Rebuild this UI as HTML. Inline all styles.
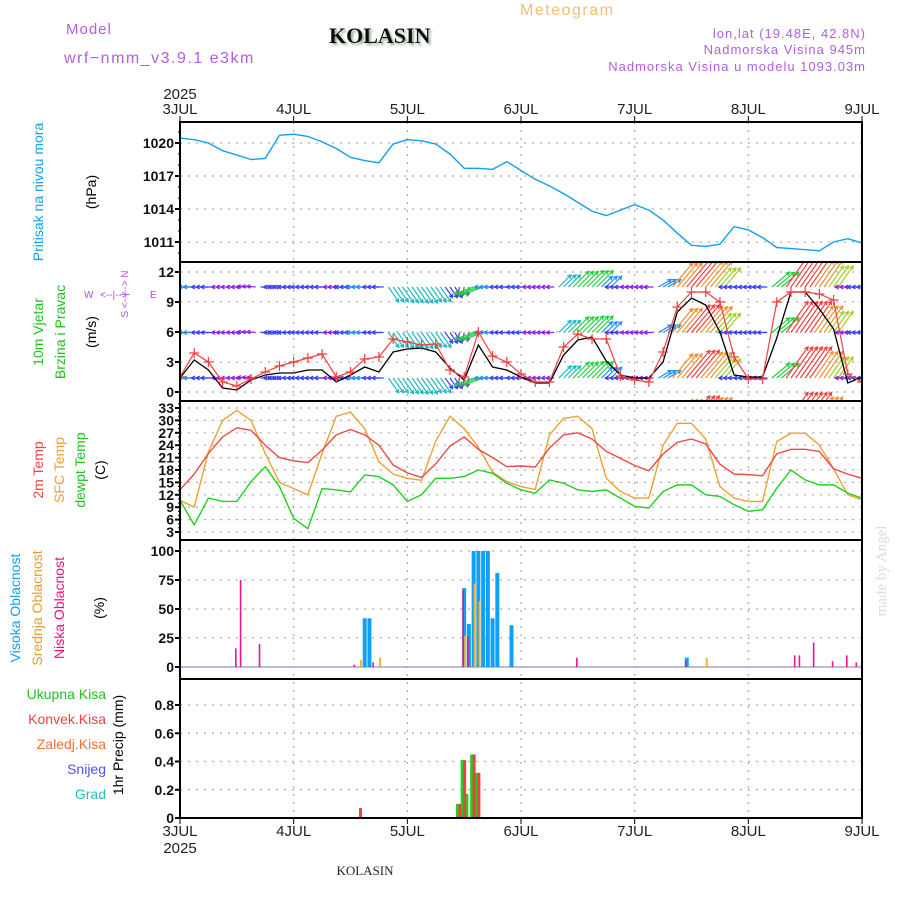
<!DOCTYPE html>
<html><head><meta charset="utf-8"><style>
html,body{margin:0;padding:0;background:#fff;}
svg{display:block;font-family:"Liberation Sans",sans-serif;}
</style></head><body>
<svg id="chart" width="900" height="900" viewBox="0 0 900 900" xmlns="http://www.w3.org/2000/svg">
<defs>
<clipPath id="windClip"><rect x="180" y="262" width="682" height="139"/></clipPath>
<clipPath id="tempClip"><rect x="180" y="401" width="682" height="139"/></clipPath>
<filter id="sh"><feDropShadow dx="2" dy="2" stdDeviation="1" flood-color="#9a9"/></filter>
</defs>
<g>
<text x="66" y="34" fill="#b060e0" font-size="15" letter-spacing="1">Model</text>
<text x="64" y="63" fill="#b060e0" font-size="16" letter-spacing="1.5">wrf−nmm_v3.9.1 e3km</text>
<text x="329" y="43" font-family="Liberation Serif,serif" font-weight="bold" font-size="22" fill="#111" filter="url(#sh)">KOLASIN</text>
<text x="520" y="15" fill="#f0c070" font-size="16" letter-spacing="1.5">Meteogram</text>
<text x="866" y="38" text-anchor="end" fill="#b060e0" font-size="13" letter-spacing="1">lon,lat (19.48E, 42.8N)</text>
<text x="866" y="54" text-anchor="end" fill="#b060e0" font-size="13" letter-spacing="1">Nadmorska Visina 945m</text>
<text x="866" y="71" text-anchor="end" fill="#b060e0" font-size="13" letter-spacing="1">Nadmorska Visina u modelu 1093.03m</text>
<text x="365" y="875" text-anchor="middle" font-family="Liberation Serif,serif" font-size="13" fill="#222">KOLASIN</text>
<text transform="translate(886,571) rotate(-90)" text-anchor="middle" font-family="Liberation Serif,serif" font-size="15" fill="#d8ddd8">made by Angel</text>
</g>
<g font-size="14">
<text transform="translate(43,192) rotate(-90)" text-anchor="middle" fill="#10a0f0">Pritisak na nivou mora</text>
<text transform="translate(96,192) rotate(-90)" text-anchor="middle" fill="#000">(hPa)</text>
<text transform="translate(43,332) rotate(-90)" text-anchor="middle" fill="#20c020">10m Vjetar</text>
<text transform="translate(65,332) rotate(-90)" text-anchor="middle" fill="#20c020">Brzina i Pravac</text>
<text transform="translate(96,332) rotate(-90)" text-anchor="middle" fill="#000">(m/s)</text>
<g fill="#b050e0" font-size="10">
<text x="84" y="298">W</text><text x="100" y="298">&lt;--|--&gt;</text><text x="150" y="298">E</text>
<text transform="translate(128,294) rotate(-90)" text-anchor="middle">S &lt;--|--&gt; N</text>
</g>
<text transform="translate(43,470) rotate(-90)" text-anchor="middle" fill="#f04040">2m Temp</text>
<text transform="translate(64,470) rotate(-90)" text-anchor="middle" fill="#f0a030">SFC Temp</text>
<text transform="translate(85,470) rotate(-90)" text-anchor="middle" fill="#20c020">dewpt Temp</text>
<text transform="translate(105,470) rotate(-90)" text-anchor="middle" fill="#000">(C)</text>
<text transform="translate(20,608) rotate(-90)" text-anchor="middle" fill="#10a0f0">Visoka Oblacnost</text>
<text transform="translate(42,608) rotate(-90)" text-anchor="middle" fill="#e0a030">Srednja Oblacnost</text>
<text transform="translate(64,608) rotate(-90)" text-anchor="middle" fill="#f01080">Niska Oblacnost</text>
<text transform="translate(104,608) rotate(-90)" text-anchor="middle" fill="#000">(%)</text>
<text x="106" y="699" text-anchor="end" fill="#20c020">Ukupna Kisa</text>
<text x="106" y="724" text-anchor="end" fill="#f04040">Konvek.Kisa</text>
<text x="106" y="749" text-anchor="end" fill="#f07030">Zaledj.Kisa</text>
<text x="106" y="774" text-anchor="end" fill="#5050f0">Snijeg</text>
<text x="106" y="799" text-anchor="end" fill="#20c0c0">Grad</text>
<text transform="translate(123,745) rotate(-90)" text-anchor="middle" fill="#000">1hr Precip (mm)</text>
</g>
<g id="plots"></g>
</svg>
<script>
// ---- data (3-hourly from 3JUL 00h) ----
const dayLabels = ["3JUL","4JUL","5JUL","6JUL","7JUL","8JUL","9JUL"];
const pressure = [1020.45,1020.3,1020.0,1019.3,1018.9,1018.5,1018.6,1020.7,1020.8,1020.6,1020.1,1019.5,1018.7,1018.4,1018.2,1019.9,1020.3,1020.2,1019.9,1019.0,1017.7,1017.7,1017.6,1018.3,1017.5,1016.7,1016.1,1015.4,1014.6,1013.8,1013.4,1013.9,1014.4,1013.9,1013.0,1011.8,1010.7,1010.6,1010.8,1012.4,1012.1,1011.4,1010.5,1010.4,1010.3,1010.2,1011.0,1011.3,1010.9];
const pressureTicks = [1011,1014,1017,1020];
const windSpeed = [1.4,3.2,2.2,0.4,0.2,1.2,1.7,1.9,1.9,2.2,2.2,1.0,1.7,2.5,2.0,4.0,4.3,4.4,4.0,2.4,1.2,4.7,2.5,2.2,1.5,0.9,0.9,3.7,5.2,5.5,3.1,1.7,1.4,1.4,3.0,8.0,9.4,8.7,6.0,1.7,1.5,1.5,5.4,10,10,8.3,6.3,0.9,1.5];
const windGust = [1.5,3.9,3.0,1.0,0.6,1.3,2.0,2.6,3.0,3.4,3.8,1.5,2.0,3.3,3.5,5.3,5.0,4.7,4.8,2.2,1.5,6.0,3.6,3.0,1.8,1.0,1.0,4.5,5.8,5.3,5.3,1.6,1.2,1.0,4.0,8.5,10.0,10.0,9.0,3.5,1.3,1.3,9.0,10.0,10.0,9.8,9.2,1.8,1.0];
const windDir = [180,180,180,180,180,175,0,180,180,180,180,180,180,180,180,-55,-55,-55,-55,-55,-100,200,180,180,180,180,180,45,45,45,45,180,180,180,30,50,50,50,50,180,180,180,40,55,55,55,55,180,180];
const windTicks = [0,3,6,9,12];
const temp2m = [13.2,17,22,26,28.2,27.6,24,21,20.2,19.8,22.8,26.5,27.8,26.5,24,19.2,17.3,16.2,19.5,23.8,26,23,21,18.8,19,18.7,23.3,26.5,27,25.5,22.5,20.8,19.1,17.8,21.9,24.7,25.5,24.3,19.4,17,16.9,16.6,21.9,23,23,22.5,18.3,17,16];
const tempSfc = [10.7,9,22.4,30,32.4,30,22,15,13.5,12,22,31,32,28,20,17,16,15.5,25,31,28,23.5,17.5,15.2,14,13.3,26.5,30.5,31,28,16,12.8,11.2,11.2,24,29.3,29.3,25.5,14,11.2,10.4,10.4,24.9,26.9,26.9,24,18.3,12,10.8];
const tempDew = [10.7,4.7,11.2,10.4,10.4,15.2,18.8,14,6.3,3.8,13.5,13.2,12.7,16.8,16.4,14.4,10.4,12,16,16,16.4,18,17.2,14.8,13.2,12.4,15.6,14.8,13.2,12.8,13.2,11.2,9.2,8.8,12.8,14.4,14.4,12,11.6,9.6,8,8.4,13.6,18,15.6,14.4,14.4,12.4,11.2];
const tempTicks = [3,6,9,12,15,18,21,24,27,30,33];
const highHours = [39,40,60,61,62,63,64,65,66,67,70,107];
const highVals  = [42,42,68,37,100,100,100,100,42,81,36,8];
const midHours = [38,42,60,62,63,111];
const midVals  = [6,8,27,72,57,8];
const lowHours = [12,13,17,37,41,60,61,84,107,130,131,134,138,141,143];
const lowVals  = [16,75,20,2,4,66,26,8,5,10,10,21,5,10,4];
const cloudTicks = [0,25,50,75,100];
const totalHours = [59,60,61,62,63];
const totalVals  = [0.1,0.41,0.17,0.45,0.32];
const convHours = [38,59,60,62,63];
const convVals  = [0.07,0.1,0.41,0.45,0.32];
const precipTicks = [0,0.2,0.4,0.6,0.8];

// ---- scales ----
const X0=180, X1=862;
const xh = h => X0 + h*(X1-X0)/144;
const xk = k => xh(k*3);
const yP = p => 143 + (1020-p)*11;
const yW = v => 392 - v*10;
const yT = t => 532 - (t-3)*124/30;
const yC = c => 667 - c*1.16;
const yR = r => 818 - r*141.25;
const NS="http://www.w3.org/2000/svg";
const root=document.getElementById('plots');
function el(tag,attrs,parent){const e=document.createElementNS(NS,tag);for(const k in attrs)e.setAttribute(k,attrs[k]);(parent||root).appendChild(e);return e;}

const panels=[[122,262],[262,401],[401,540],[540,679],[679,818]];
// grids
const grid=el('g',{stroke:'#aaa','stroke-width':1.2,'stroke-dasharray':'2,6'});


for(let d=1;d<6;d++){el('line',{x1:xh(d*24),x2:xh(d*24),y1:122,y2:818},grid);}
function hgrid(vals,f){vals.forEach(v=>el('line',{x1:X0,x2:X1,y1:f(v),y2:f(v)},grid));}
hgrid(pressureTicks,yP);hgrid(windTicks,yW);hgrid(tempTicks,yT);hgrid(cloudTicks,yC);hgrid(precipTicks,yR);

// tick labels
const tl=el('g',{'font-size':14,'font-weight':'bold','text-anchor':'end',fill:'#111'});


function ylabels(vals,f,fmt){vals.forEach(v=>{const t=el('text',{x:174,y:f(v)+5},tl);t.textContent=fmt?fmt(v):v;el('line',{x1:175,x2:180,y1:f(v),y2:f(v),stroke:'#000','stroke-width':2},tl);});}
ylabels(pressureTicks,yP);ylabels(windTicks,yW);ylabels(tempTicks,yT);ylabels(cloudTicks,yC);ylabels(precipTicks,yR,v=>v===0?'0':v.toFixed(1));
for(let p=1010;p<=1021;p++)el('line',{x1:178,x2:180,y1:yP(p),y2:yP(p),stroke:'#000'},tl);
for(let t=3;t<=34;t++)el('line',{x1:178,x2:180,y1:yT(t),y2:yT(t),stroke:'#000'},tl);

// x labels
const xl=el('g',{'font-size':15,'text-anchor':'middle',fill:'#222'});


dayLabels.forEach((d,i)=>{const x=xh(i*24);
 let t=el('text',{x:x,y:114},xl);t.textContent=d;
 t=el('text',{x:x,y:836},xl);t.textContent=d;
 el('line',{x1:x,x2:x,y1:116,y2:122,stroke:'#000'},xl);
 el('line',{x1:x,x2:x,y1:818,y2:824,stroke:'#000'},xl);});
let t2=el('text',{x:180,y:99},xl);t2.textContent='2025';
t2=el('text',{x:180,y:853},xl);t2.textContent='2025';

// pressure line
const pl=el('polyline',{points:pressure.map((p,k)=>xk(k)+','+yP(p)).join(' '),fill:'none',stroke:'#10a0f0','stroke-width':1.4,'stroke-linejoin':'round'});



// wind arrows (each 3h value drawn as a small cluster of hourly arrows)
function spdColor(s){return s<1.5?'#9020e0':s<2.5?'#3a40f0':s<3.5?'#2090f0':s<4.6?'#20b8c0':s<5.6?'#20d040':s<6.5?'#a0d020':s<7.5?'#f0c020':s<8.8?'#f09030':'#f04040';}
const wg=el('g',{'clip-path':'url(#windClip)','stroke-width':1.2,fill:'none'});


[287,332.5,378,423.5].forEach(base=>{
 windSpeed.forEach((s,k)=>{
  const a=windDir[k]*Math.PI/180, L=5+3.3*s, c=spdColor(s);
  [-1,0,1].forEach(o=>{
   const x0=xh(k*3+o), y0=base, x1=x0+L*Math.cos(a), y1=y0-L*Math.sin(a);
   const arr=el('path',{d:`M${x0},${y0}L${x1},${y1}M${x1-4*Math.cos(a-0.5)},${y1+4*Math.sin(a-0.5)}L${x1},${y1}L${x1-4*Math.cos(a+0.5)},${y1+4*Math.sin(a+0.5)}`,stroke:c},wg);
   
   
  });
 });
});
// wind speed & gust
const ws=el('polyline',{points:windSpeed.map((v,k)=>xk(k)+','+yW(v)).join(' '),fill:'none',stroke:'#000','stroke-width':1.3,'clip-path':'url(#windClip)'});


const gl=el('polyline',{points:windGust.map((v,k)=>xk(k)+','+yW(v)).join(' '),fill:'none',stroke:'#f04040','stroke-width':1.2,'clip-path':'url(#windClip)'});


const gm=el('g',{stroke:'#f04040','stroke-width':1.2,'clip-path':'url(#windClip)'});


windGust.forEach((v,k)=>{const x=xk(k),y=yW(v);el('path',{d:`M${x-5},${y}h10M${x},${y-5}v10`},gm);});

// temperatures
[[tempSfc,'#f0a030','sfc-temp-line'],[temp2m,'#f04848','temp-2m-line'],[tempDew,'#20d020','dewpoint-line']].forEach(([arr,c,n])=>{
 const l=el('polyline',{points:arr.map((v,k)=>xk(k)+','+yT(v)).join(' '),fill:'none',stroke:c,'stroke-width':1.4,'stroke-linejoin':'round','clip-path':'url(#tempClip)'});
 
 
});

// clouds
el('line',{x1:X0,x2:X1,y1:667,y2:667,stroke:'#b0a0d8','stroke-width':1.5});
function bars(hours,vals,f,c,w,off,name){
 const g=el('g',{fill:c});
 
 
 hours.forEach((h,i)=>{const y=f(vals[i]),y0=f(0);
  const b=el('rect',{x:xh(h)+off-w/2,y:y,width:w,height:y0-y},g);
  
  });
}
bars(highHours,highVals,yC,'#10a0f8',4,0,'high-cloud');
bars(midHours,midVals,yC,'#f0b030',2,1,'mid-cloud');
bars(lowHours,lowVals,yC,'#f01090',1.6,-1,'low-cloud');
bars(totalHours,totalVals,yR,'#20d020',3,-2,'total-rain');
bars(convHours,convVals,yR,'#f04040',3,0.5,'conv-rain');

// frames
const fr=el('g',{fill:'none',stroke:'#000','stroke-width':2});


panels.forEach(([a,b])=>el('rect',{x:X0,y:a,width:X1-X0,height:b-a},fr));
</script>
</body></html>
